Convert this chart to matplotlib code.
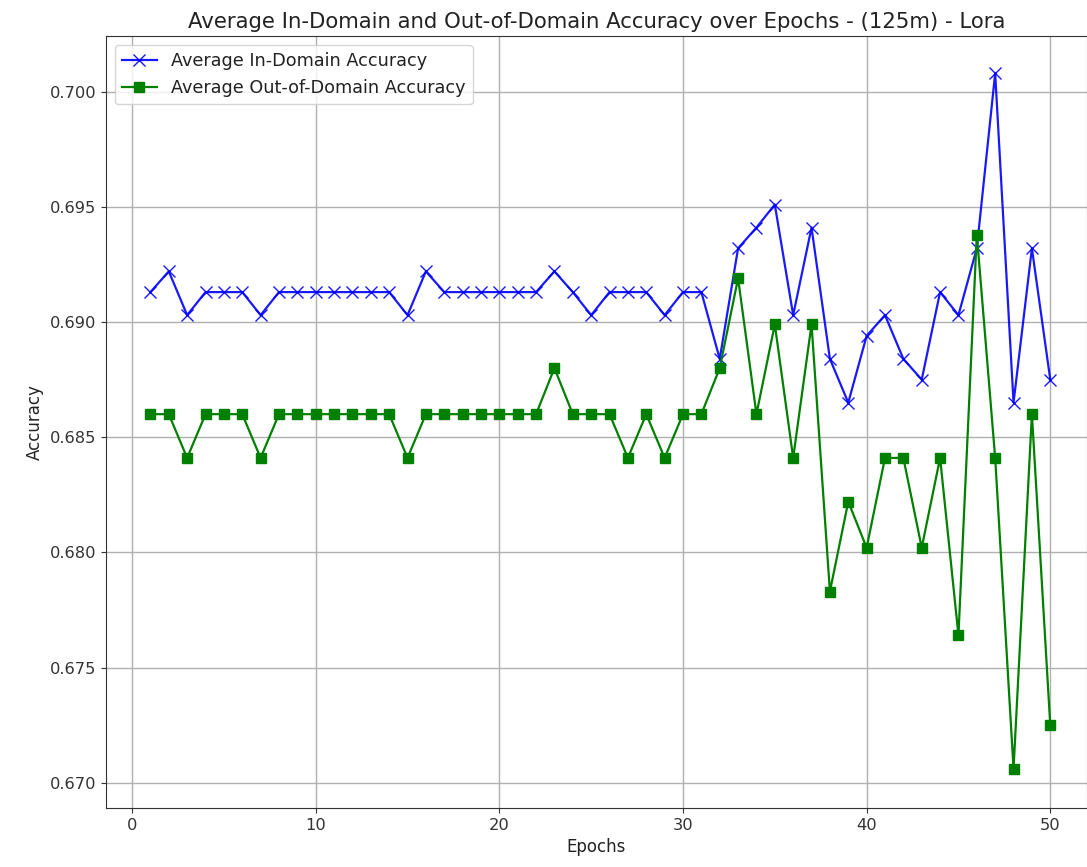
import matplotlib
matplotlib.use("Agg")
import matplotlib.pyplot as plt

epochs = list(range(1, 51))

in_domain = [
    0.6913, 0.6922, 0.6903, 0.6913, 0.6913, 0.6913, 0.6903, 0.6913, 0.6913, 0.6913,
    0.6913, 0.6913, 0.6913, 0.6913, 0.6903, 0.6922, 0.6913, 0.6913, 0.6913, 0.6913,
    0.6913, 0.6913, 0.6922, 0.6913, 0.6903, 0.6913, 0.6913, 0.6913, 0.6903, 0.6913,
    0.6913, 0.6884, 0.6932, 0.6941, 0.6951, 0.6903, 0.6941, 0.6884, 0.6865, 0.6894,
    0.6903, 0.6884, 0.6875, 0.6913, 0.6903, 0.6932, 0.7008, 0.6865, 0.6932, 0.6875,
]

out_domain = [
    0.6860, 0.6860, 0.6841, 0.6860, 0.6860, 0.6860, 0.6841, 0.6860, 0.6860, 0.6860,
    0.6860, 0.6860, 0.6860, 0.6860, 0.6841, 0.6860, 0.6860, 0.6860, 0.6860, 0.6860,
    0.6860, 0.6860, 0.6880, 0.6860, 0.6860, 0.6860, 0.6841, 0.6860, 0.6841, 0.6860,
    0.6860, 0.6880, 0.6919, 0.6860, 0.6899, 0.6841, 0.6899, 0.6783, 0.6822, 0.6802,
    0.6841, 0.6841, 0.6802, 0.6841, 0.6764, 0.6938, 0.6841, 0.6706, 0.6860, 0.6725,
]

plt.rcParams["text.color"] = "#222222"
plt.rcParams["axes.labelcolor"] = "#222222"
plt.rcParams["xtick.color"] = "#333333"
plt.rcParams["ytick.color"] = "#333333"
plt.rcParams["axes.edgecolor"] = "#333333"

fig = plt.figure(figsize=(10.87, 8.67), dpi=100)
ax = fig.add_axes([0.0975, 0.068, 0.9025, 0.890])

ax.plot(epochs, in_domain, color="blue", marker="x", markersize=8,
        linewidth=1.6, alpha=0.9, label="Average In-Domain Accuracy")
ax.plot(epochs, out_domain, color="green", marker="s", markersize=7,
        linewidth=1.6, label="Average Out-of-Domain Accuracy")

ax.set_title("Average In-Domain and Out-of-Domain Accuracy over Epochs - (125m) - Lora",
             fontsize=15.3)
ax.set_xlabel("Epochs", fontsize=12)
ax.set_ylabel("Accuracy", fontsize=12)
ax.tick_params(labelsize=11.7)
ax.set_yticks([0.670, 0.675, 0.680, 0.685, 0.690, 0.695, 0.700])
ax.set_xlim(-1.42, 52.0)
ax.set_ylim(0.6689, 0.7024)
ax.grid(True, color="#b0b0b0", linewidth=1)
ax.legend(loc="upper left", fontsize=12.7)

fig.savefig("out.png", dpi=100)
